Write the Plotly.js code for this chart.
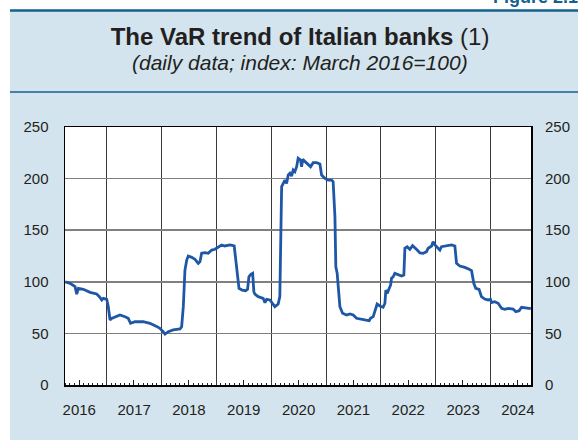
<!DOCTYPE html>
<html>
<head>
<meta charset="utf-8">
<script src="https://cdn.plot.ly/plotly-3.0.1.min.js"></script>
<style>html,body{margin:0;padding:0;background:#fff;}#chart{width:578px;height:440px;}</style>
</head>
<body>
<div id="chart"></div>
<script>
// ---- data ----
const dates = [
 '2016-03-31','2016-05-02','2016-06-04','2016-06-15','2016-06-26','2016-07-29','2016-09-12','2016-10-26','2016-11-13','2016-11-29',
 '2016-12-09','2017-01-01','2017-01-11','2017-01-23','2017-02-03','2017-02-25','2017-03-30','2017-05-03','2017-05-24','2017-06-09',
 '2017-07-08','2017-09-01','2017-10-16','2017-11-29','2017-12-21','2018-01-12','2018-01-24','2018-02-15','2018-03-20','2018-05-04',
 '2018-05-15','2018-05-26','2018-06-06','2018-06-18','2018-06-28','2018-07-21','2018-08-12','2018-09-03','2018-09-14','2018-09-25',
 '2018-10-17','2018-11-08','2018-12-01','2018-12-23','2019-01-14','2019-02-05','2019-02-27','2019-04-02','2019-04-30','2019-05-09',
 '2019-05-23','2019-06-01','2019-06-22','2019-07-15','2019-07-28','2019-08-06','2019-08-19','2019-08-31','2019-09-08','2019-09-15',
 '2019-10-07','2019-11-09','2019-11-21','2019-12-02','2019-12-24','2020-01-15','2020-01-26','2020-02-17','2020-02-28','2020-03-11',
 '2020-03-21','2020-04-02','2020-04-13','2020-04-24','2020-05-05','2020-05-16','2020-05-27','2020-06-07','2020-06-19','2020-06-29',
 '2020-07-15','2020-07-22','2020-07-29','2020-08-13','2020-09-04','2020-09-20','2020-10-07','2020-10-30','2020-11-21','2020-12-02',
 '2020-12-24','2021-01-15','2021-02-07','2021-02-17','2021-03-01','2021-03-07','2021-03-16','2021-03-23','2021-04-03','2021-04-21',
 '2021-05-18','2021-06-09','2021-07-01','2021-07-23','2021-08-14','2021-09-16','2021-10-15','2021-10-24','2021-11-11','2021-11-22',
 '2021-12-07','2021-12-25','2022-01-16','2022-01-28','2022-02-03','2022-02-12','2022-02-25','2022-03-07','2022-03-13','2022-03-24',
 '2022-04-04','2022-04-26','2022-05-19','2022-06-03','2022-06-10','2022-06-25','2022-07-13','2022-07-31','2022-08-15','2022-08-31',
 '2022-09-18','2022-10-10','2022-11-01','2022-11-12','2022-12-05','2022-12-15','2022-12-27','2023-01-17','2023-01-29','2023-02-09',
 '2023-03-14','2023-04-17','2023-05-09','2023-05-20','2023-06-11','2023-07-14','2023-08-12','2023-08-28','2023-09-12','2023-09-25',
 '2023-10-17','2023-11-02','2023-11-24','2023-12-16','2024-01-01','2024-01-08','2024-01-30','2024-02-21','2024-03-15','2024-04-06',
 '2024-04-28','2024-05-31','2024-06-18','2024-07-10','2024-07-26','2024-08-24','2024-09-26'
];
const varIndex = [
 100,98.5,95.3,88,93.7,92.7,89.8,88.2,85.6,82.4,
 84,83,76,63,64.6,66.2,67.8,66.2,64.6,59.8,
 61.3,61.3,59.8,56.8,54.9,51.7,49.4,51.7,53.3,54.3,
 56.5,75.9,111.4,121.1,125,123.7,121.8,117.9,119.5,127.6,
 128.2,127.6,130.8,131.5,134,135.7,134.7,135.7,134.7,124.3,
 104.9,93.7,92,91.4,92.7,104.9,107.3,108.2,90.4,88,
 85.6,84,79.8,83,82.4,78.5,75.9,78.5,85.6,192.2,
 195.3,198.6,195.3,203.5,205.1,202.5,208.3,206.7,211.5,219.7,
 218,211.5,218.6,216.4,214.1,211.5,215.4,215.4,214.1,203.5,
 200.3,198.6,198.5,197,163,114.6,108.2,92,75.9,69.5,
 67.8,68.8,67.8,64.6,63.7,63,62.3,64.6,66.2,72.7,
 78.5,76.6,75.3,79.2,92,88.8,93.7,96.9,103.4,104.9,
 108.2,106.6,105.6,106.6,132.5,134,131.5,135,132.5,130.8,
 128,127.6,129.2,132.5,134.7,138.9,135.7,132.5,130.8,134,
 134.7,135.7,134.7,117.9,115.3,114,112.1,110.8,98.5,93.7,
 92.7,85.6,83.3,82.4,83,79.8,80.7,79.2,74.3,73.3,
 74.3,73.6,71,72,75.3,74.6,73.9
];
const yearMidDates = ['2016-07-01','2017-07-01','2018-07-01','2019-07-01','2020-07-01','2021-07-01','2022-07-01','2023-07-01','2024-07-01'];
const yTicks = [0,50,100,150,200,250];

const xRange = ['2016-03-29','2024-09-27'];
const W = 578, H = 440, L = 65, R = 47, T = 127, B = 55;
const pw = W - L - R, ph = H - T - B;
const px = x => (x - L) / pw;          // pixel -> paper x
const py = y => (H - B - y) / ph;      // pixel -> paper y

const bgBlue = '#d3e4ee';
const darkBlue = '#14618f';
const ink = '#231f20';
const fontFam = '"Liberation Sans", Arial, Helvetica, sans-serif';

const trace = {
  x: dates, y: varIndex, type: 'scatter', mode: 'lines',
  line: {color: '#1f57a7', width: 2.8},
  hoverinfo: 'skip', showlegend: false
};
// same series on the overlaid axes (transparent) so that the right-hand
// scale and the mid-year tick marks are drawn
const traceOverlay = {
  x: dates, y: varIndex, xaxis: 'x2', yaxis: 'y2', type: 'scatter', mode: 'lines',
  line: {color: 'rgba(0,0,0,0)', width: 0}, hoverinfo: 'skip', showlegend: false
};

const layout = {
  width: W, height: H,
  margin: {l: L, r: R, t: T, b: B, pad: 0},
  paper_bgcolor: bgBlue, plot_bgcolor: '#ffffff',
  font: {family: fontFam, color: ink, size: 15},
  showlegend: false,
  title: {
    text: '<b>The VaR trend of Italian banks</b> (1)',
    font: {family: fontFam, size: 24, color: ink},
    x: 300 / W, xref: 'container', xanchor: 'center',
    y: 1 - 37 / H, yref: 'container', yanchor: 'middle'
  },
  xaxis: {
    type: 'date', range: xRange, fixedrange: true,
    tick0: '2016-01-01', dtick: 'M12', tickformat: '%Y', ticklabelmode: 'period',
    ticks: '', ticklabelstandoff: 10,
    tickfont: {size: 15, color: ink},
    showgrid: true, gridcolor: '#3a3a3a', gridwidth: 1, zeroline: false,
    showline: true, linecolor: '#000', linewidth: 1.5, mirror: true,
    minor: {dtick: 'M1', tick0: '2016-01-01', ticks: 'inside', ticklen: 2.5, tickwidth: 1, tickcolor: ink, showgrid: false}
  },
  xaxis2: {
    type: 'date', range: xRange, overlaying: 'x', anchor: 'y2', side: 'bottom', fixedrange: true,
    tickmode: 'array', tickvals: yearMidDates, showticklabels: false,
    ticks: 'inside', ticklen: 5, tickwidth: 1, tickcolor: ink,
    showgrid: false, zeroline: false, showline: false
  },
  yaxis: {
    range: [0, 250], tickmode: 'array', tickvals: yTicks, fixedrange: true,
    ticks: '', ticklabelstandoff: 12,
    showgrid: true, gridcolor: '#808080', gridwidth: 1.5, zeroline: false,
    showline: true, linecolor: '#000', linewidth: 1.5, mirror: true,
    tickfont: {size: 15, color: ink}
  },
  yaxis2: {
    range: [0, 250], tickmode: 'array', tickvals: yTicks, fixedrange: true,
    overlaying: 'y', side: 'right', anchor: 'x2',
    ticks: '', ticklabelstandoff: 13, showgrid: false, zeroline: false, showline: false,
    tickfont: {size: 15, color: ink}
  },
  shapes: [
    // white margins of the page around the light-blue panel
    {type: 'rect', xref: 'paper', yref: 'paper', x0: px(0), x1: px(W), y0: py(0), y1: py(10), fillcolor: '#ffffff', line: {width: 0}, layer: 'below'},
    {type: 'rect', xref: 'paper', yref: 'paper', x0: px(0), x1: px(10), y0: py(0), y1: py(H), fillcolor: '#ffffff', line: {width: 0}, layer: 'below'},
    // dark blue rules
    {type: 'line', xref: 'paper', yref: 'paper', x0: px(10), x1: px(W), y0: py(10.5), y1: py(10.5), line: {color: darkBlue, width: 2.5}},
    {type: 'line', xref: 'paper', yref: 'paper', x0: px(10), x1: px(W), y0: py(92), y1: py(92), line: {color: darkBlue, width: 1.5}}
  ],
  annotations: [
    {text: '<i>(daily data; index: March 2016=100)</i>', xref: 'paper', yref: 'paper',
     x: px(300), y: py(62), xanchor: 'center', yanchor: 'middle', showarrow: false,
     font: {family: fontFam, size: 21, color: ink}},
    {text: '<b>Figure 2.1</b>', xref: 'paper', yref: 'paper',
     x: px(491), y: py(-3), xanchor: 'left', yanchor: 'middle', showarrow: false,
     font: {family: fontFam, size: 18, color: darkBlue}}
  ]
};

Plotly.newPlot('chart', [trace, traceOverlay], layout, {staticPlot: true, displayModeBar: false});
</script>
</body>
</html>
